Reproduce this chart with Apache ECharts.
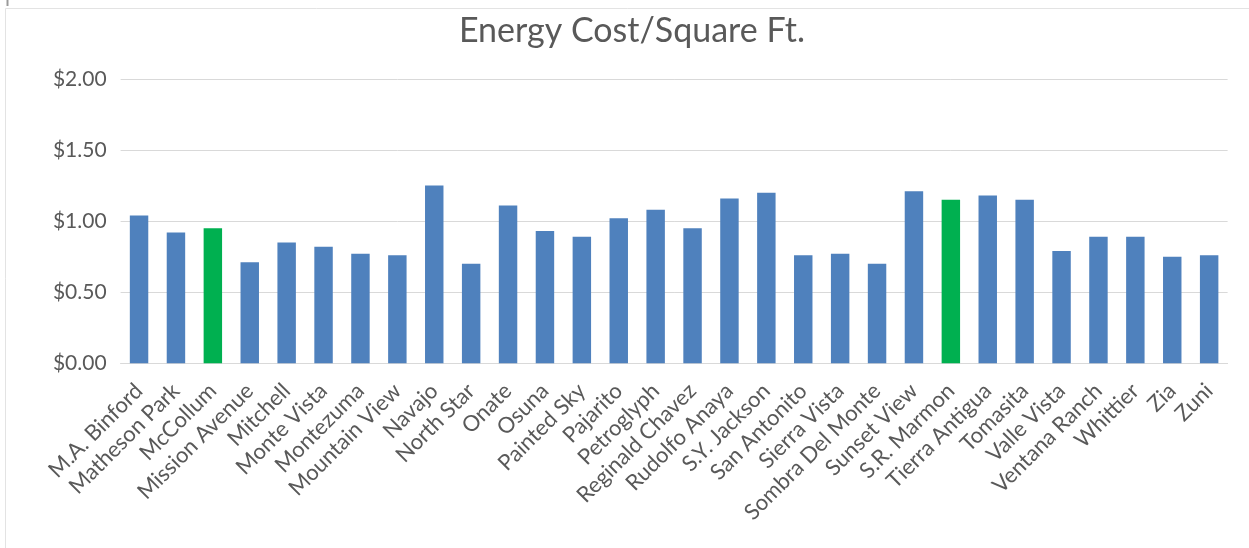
<!DOCTYPE html>
<html>
<head>
<meta charset="utf-8">
<script src="https://cdn.jsdelivr.net/npm/echarts@6/dist/echarts.min.js"></script>
<style>
  html, body { margin: 0; padding: 0; background: #ffffff; }
  #chart { width: 1249px; height: 548px; }
</style>
</head>
<body>
<div id="chart"></div>
<script>
// School names along the category axis
const schools = [
  'M.A. Binford', 'Matheson Park', 'McCollum', 'Mission Avenue', 'Mitchell',
  'Monte Vista', 'Montezuma', 'Mountain View', 'Navajo', 'North Star',
  'Onate', 'Osuna', 'Painted Sky', 'Pajarito', 'Petroglyph',
  'Reginald Chavez', 'Rudolfo Anaya', 'S.Y. Jackson', 'San Antonito', 'Sierra Vista',
  'Sombra Del Monte', 'Sunset View', 'S.R. Marmon', 'Tierra Antigua', 'Tomasita',
  'Valle Vista', 'Ventana Ranch', 'Whittier', 'Zia', 'Zuni'
];

// Energy cost per square foot, in dollars
const costPerSqFt = [
  1.04, 0.92, 0.95, 0.71, 0.85,
  0.82, 0.77, 0.76, 1.25, 0.70,
  1.11, 0.93, 0.89, 1.02, 1.08,
  0.95, 1.16, 1.20, 0.76, 0.77,
  0.70, 1.21, 1.15, 1.18, 1.15,
  0.79, 0.89, 0.89, 0.75, 0.76
];

// Schools drawn in the highlight colour
const highlighted = ['McCollum', 'S.R. Marmon'];

// Value-axis ticks
const yTicks = [0, 0.5, 1.0, 1.5, 2.0];

const BLUE = '#4f81bd';
const GREEN = '#00b050';
const TEXT = '#595959';
const FONT = 'Lato, "Open Sans", sans-serif';

const chart = echarts.init(document.getElementById('chart'), null, { renderer: 'canvas' });

const barData = schools.map((name, i) => ({
  value: costPerSqFt[i],
  itemStyle: { color: highlighted.includes(name) ? GREEN : BLUE }
}));

chart.setOption({
  backgroundColor: '#ffffff',
  animation: false,
  title: {
    text: 'Energy Cost/Square Ft.',
    left: 627,
    textAlign: 'center',
    top: 9,
    textStyle: { color: TEXT, fontFamily: FONT, fontSize: 34, fontWeight: 'normal' }
  },
  graphic: [
    // chart-area frame (top and left edges)
    { type: 'line', shape: { x1: 5.5, y1: 8.5, x2: 1249, y2: 8.5 }, style: { stroke: '#e3e3e3', lineWidth: 1 } },
    { type: 'line', shape: { x1: 5.5, y1: 8.5, x2: 5.5, y2: 548 }, style: { stroke: '#e3e3e3', lineWidth: 1 } },
    { type: 'line', shape: { x1: 7.5, y1: 0, x2: 7.5, y2: 6 }, style: { stroke: '#9a9a9a', lineWidth: 2 } }
  ],
  grid: { left: 120.6, right: 21.4, top: 79, bottom: 184.7, containLabel: false },
  xAxis: {
    type: 'category',
    data: schools,
    axisLine: { show: true, lineStyle: { color: '#d9d9d9', width: 1 } },
    axisTick: { show: false },
    axisLabel: {
      interval: 0,
      rotate: 45,
      margin: 24,
      color: TEXT,
      fontFamily: FONT,
      fontSize: 22
    }
  },
  yAxis: {
    type: 'value',
    min: 0,
    max: 2,
    interval: 0.5,
    axisLine: { show: false },
    axisTick: { show: false },
    splitLine: { lineStyle: { color: '#d9d9d9', width: 1 } },
    axisLabel: {
      color: TEXT,
      fontFamily: FONT,
      fontSize: 21,
      margin: 14,
      formatter: v => yTicks.includes(v) ? '$' + v.toFixed(2) : ''
    }
  },
  series: [{
    type: 'bar',
    data: barData,
    barWidth: '50%'
  }]
});
</script>
</body>
</html>
